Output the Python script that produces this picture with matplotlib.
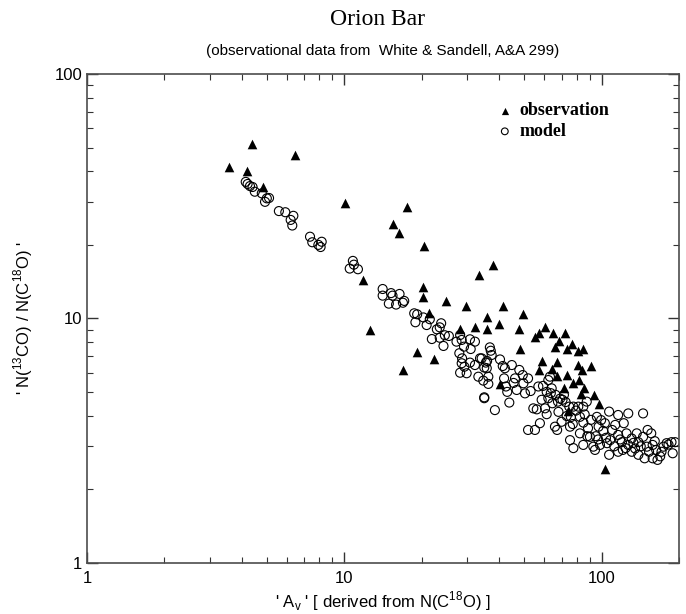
import numpy as np
import matplotlib
matplotlib.use('Agg')
import matplotlib.pyplot as plt

# observation (White & Sandell) : A_v , N(13CO)/N(C18O)
obs_x = [3.56, 4.38, 4.18, 4.82, 6.45, 10.06, 11.85, 12.6, 15.4, 16.3, 17.6, 20.4,
         20.3, 20.2, 24.9, 29.6, 33.5, 35.9, 36.0, 28.2, 32.2, 21.4, 19.1, 22.3, 16.9,
         37.9, 41.5, 49.6, 39.9, 47.9, 48.0, 55.1, 57.1, 60.3, 64.6, 72.3, 68.5, 76.5,
         65.7, 73.2, 81.0, 84.9, 58.7, 56.9, 66.9, 64.1, 66.9, 73.6, 81.2, 83.9, 91.2,
         81.9, 77.2, 71.4, 85.4, 93.4, 83.2, 98.0, 74.2, 103, 40.3]
obs_y = [41.8, 51.7, 40.2, 34.6, 46.8, 29.6, 14.4, 8.98, 24.3, 22.3, 28.7, 19.8,
         13.4, 12.2, 11.8, 11.3, 15.0, 10.1, 9.09, 9.03, 9.23, 10.5, 7.27, 6.85, 6.16,
         16.6, 11.2, 10.4, 9.52, 9.03, 7.52, 8.38, 8.75, 9.26, 8.75, 8.70, 8.11, 7.87,
         7.63, 7.48, 7.38, 7.50, 6.70, 6.16, 6.64, 6.20, 5.82, 5.87, 6.45, 6.16, 6.39,
         5.60, 5.43, 5.21, 5.18, 4.87, 4.90, 4.47, 4.20, 2.42, 5.40]

# model
mod_x = [4.14, 4.21, 4.30, 4.40, 4.49, 4.78, 4.92, 5.10, 5.00,
         5.57, 5.90, 6.34, 6.19, 6.28, 7.36, 7.51, 7.93, 8.09, 8.17,
         10.5, 10.8, 10.9, 11.3,
         14.1, 14.1, 15.2, 15.4, 16.4, 14.9, 15.9, 16.9, 17.1,
         18.7, 19.2, 20.3, 21.5, 18.9, 20.9,
         23.8, 22.9, 23.5, 24.6, 25.5, 21.9, 23.5, 24.3,
         27.3, 28.2, 28.6, 29.2, 30.8, 32.2, 31.0, 28.0, 28.7, 28.6, 29.3, 30.8, 32.2,
         29.9, 28.2, 34.2, 35.5, 35.8, 33.2, 34.7, 36.3, 35.0,
         33.7, 35.0, 35.0, 35.9, 36.3, 36.8, 37.1, 37.4, 38.5, 40.3, 41.3, 42.1, 43.0,
         43.8, 44.8, 41.8, 42.5, 46.1, 47.9, 49.4, 49.7, 50.4, 51.8, 46.8, 51.8, 55.1,
         57.6, 54.3, 56.0, 56.8, 59.2, 62.1, 63.0, 61.2, 64.0, 62.1, 64.4, 67.7, 66.3,
         71.4, 60.3, 61.2, 65.9, 67.2, 69.9, 73.2, 75.4, 74.9, 77.7, 81.2, 84.9, 87.6,
         82.4, 77.3, 75.4, 77.7, 82.4, 84.9, 88.6, 90.1, 92.9, 95.9, 99.6, 97.4, 101.5,
         103, 107, 116, 127, 145, 108, 110, 113, 116, 120, 122, 125, 131, 135, 137,
         139, 145, 150, 151, 156, 158, 163, 169, 174, 179, 187, 193, 189, 147, 139,
         131, 121, 116, 107, 105, 98.6, 94.3, 158, 165, 127,
         # extra density in the crowded part
         45.5, 53.0, 58.5, 63.5, 69.0, 72.5, 79.5, 86.0, 91.0, 68.0, 76.0, 88.0,
         95.0, 112, 118, 124, 133, 142, 153, 161, 171, 182, 104, 97.0, 85.0, 70.5]
mod_y = [36.2, 35.5, 34.8, 34.5, 33.0, 32.5, 30.0, 31.1, 31.0,
         27.5, 27.2, 26.3, 25.3, 24.0, 21.6, 20.5, 20.0, 19.6, 20.6,
         16.0, 17.2, 16.6, 15.9,
         13.2, 12.4, 12.7, 12.4, 12.6, 11.5, 11.4, 11.6, 11.8,
         10.5, 10.4, 10.1, 9.93, 9.65, 9.40,
         9.56, 9.03, 9.20, 8.54, 8.48, 8.24, 8.34, 7.72,
         8.04, 8.56, 8.17, 7.67, 8.22, 8.04, 7.50, 7.21, 6.87, 6.56, 6.35, 6.60, 6.45,
         5.97, 6.00, 6.87, 6.60, 6.26, 5.78, 5.57, 5.40, 4.72,
         6.87, 6.30, 4.76, 6.70, 5.78, 7.62, 7.38, 7.09, 4.22, 6.80, 6.39, 6.26, 5.01,
         4.53, 6.45, 5.69, 5.27, 5.69, 6.16, 5.87, 5.43, 4.94, 5.69, 5.10, 3.50, 3.50,
         3.73, 4.29, 4.25, 5.27, 5.30, 5.60, 5.78, 5.01, 5.18, 4.72, 4.50, 4.57, 4.87,
         4.87, 4.29, 4.06, 3.61, 3.50, 3.78, 3.99, 3.61, 4.36, 4.36, 4.36, 4.36, 4.57,
         3.96, 3.70, 3.18, 2.95, 3.39, 3.04, 3.56, 3.28, 2.99, 3.96, 3.84, 3.61, 3.47,
         3.73, 4.16, 4.03, 4.09, 4.09, 3.18, 3.50, 3.67, 3.34, 3.12, 3.73, 3.39, 3.23,
         2.94, 3.39, 3.12, 3.28, 2.99, 3.50, 3.39, 3.04, 2.90, 2.73, 2.99, 3.09, 3.12,
         3.12, 2.81, 2.68, 2.77, 2.85, 2.90, 2.85, 2.77, 3.09, 3.04, 2.90, 2.68, 2.64,
         3.04,
         5.45, 5.05, 4.65, 4.95, 4.70, 4.55, 4.20, 4.05, 3.85, 4.15, 3.95, 3.30,
         3.30, 3.00, 3.20, 2.95, 3.10, 3.00, 2.85, 3.15, 2.85, 3.05, 3.25, 3.20, 3.75, 4.65]

fig = plt.figure(figsize=(6.86, 6.14), dpi=100)
ax = fig.add_axes([0.1268, 0.0831, 0.8630, 0.7964])

ax.scatter(obs_x, obs_y, marker='^', s=48, c='black', linewidths=0,
           label='observation', zorder=3)
ax.scatter(mod_x, mod_y, marker='o', s=42, facecolors='none', edgecolors='black',
           linewidths=0.8, label='model', zorder=2)

ax.set_xscale('log')
ax.set_yscale('log')
ax.set_xlim(1, 200)
ax.set_ylim(1, 100)

ax.set_xticks([1, 10, 100])
ax.set_xticklabels(['1', '10', '100'])
ax.set_yticks([1, 10, 100])
ax.set_yticklabels(['1', '10', '100'])
ax.tick_params(which='both', direction='in', top=True, right=True, labelsize=12,
               color='0.2')
ax.tick_params(which='major', length=8, width=1)
ax.tick_params(which='minor', length=4, width=0.8)
ax.tick_params(axis='x', pad=6)
for sp in ax.spines.values():
    sp.set_color('0.3')
    sp.set_linewidth(1.2)

ax.set_xlabel(r"' A$_\mathregular{v}$ ' [ derived from N(C$^\mathregular{18}$O) ]",
              fontsize=12, family='Liberation Sans', labelpad=2)
ax.set_ylabel(r"' N($^\mathregular{13}$CO) / N(C$^\mathregular{18}$O) '",
              fontsize=12, family='Liberation Sans', labelpad=14)
for lab in ax.get_xticklabels() + ax.get_yticklabels():
    lab.set_family('Liberation Sans')

fig.text(0.55, 0.968, 'Orion Bar', ha='center', va='center',
         family='Liberation Serif', fontsize=17)
fig.text(0.558, 0.917, '(observational data from  White & Sandell, A&A 299)',
         ha='center', va='center', family='Liberation Sans', fontsize=11)

ax.legend(loc='upper left', bbox_to_anchor=(0.66, 0.975), frameon=False,
          prop={'family': 'Liberation Serif', 'weight': 'bold', 'size': 13},
          handlelength=1.2, handletextpad=0.2, labelspacing=0.2, markerscale=0.75)

plt.savefig('out.png', dpi=100)
